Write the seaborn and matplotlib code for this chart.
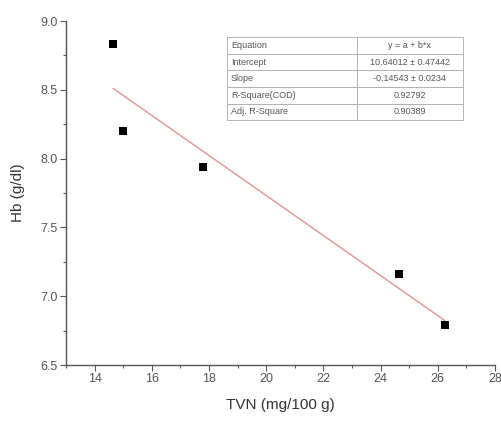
import matplotlib
matplotlib.use("Agg")
import matplotlib.pyplot as plt
import seaborn as sns
import numpy as np
import pandas as pd
from matplotlib.ticker import MultipleLocator

tvn = [14.64, 14.99, 17.77, 24.64, 26.24]
hb = [8.83, 8.20, 7.94, 7.16, 6.79]
intercept = 10.64012
slope = -0.14543
table_labels = ["Equation", "Intercept", "Slope", "R-Square(COD)", "Adj. R-Square"]
table_values = ["y = a + b*x", "10.64012 \u00b1 0.47442", "-0.14543 \u00b1 0.0234", "0.92792", "0.90389"]

sns.set_style("ticks")
plt.rcParams['font.family'] = ['Liberation Sans', 'DejaVu Sans']

fig = plt.figure(figsize=(5.01, 4.21), dpi=100)
ax = fig.add_axes([0.132, 0.133, 0.856, 0.817])

df = pd.DataFrame({"TVN": tvn, "Hb": hb})
fit_x = [min(tvn), max(tvn)]
fit = pd.DataFrame({"TVN": fit_x, "Hb": [intercept + slope * v for v in fit_x]})
sns.lineplot(data=fit, x="TVN", y="Hb", color="#eb9090", linewidth=1.0, ax=ax)
sns.scatterplot(data=df, x="TVN", y="Hb", marker="s", color="black", s=30,
                edgecolor="black", linewidth=0, ax=ax, zorder=3)

ax.set_xlim(13, 28)
ax.set_ylim(6.5, 9.0)
ax.xaxis.set_minor_locator(MultipleLocator(1))
ax.yaxis.set_major_locator(MultipleLocator(0.5))
ax.yaxis.set_minor_locator(MultipleLocator(0.25))
ax.set_xticks(np.arange(14, 28.1, 2))
ax.set_xticklabels([str(v) for v in range(14, 29, 2)])
ax.yaxis.set_major_formatter(matplotlib.ticker.FormatStrFormatter('%.1f'))
sns.despine(ax=ax)
for sp in ["left", "bottom"]:
    ax.spines[sp].set_color("#555555")
    ax.spines[sp].set_linewidth(1.0)
ax.tick_params(which="major", length=4, width=0.8, color="#555555", labelsize=9, labelcolor="#555555", pad=2)
ax.tick_params(which="minor", length=2.5, width=0.8, color="#555555")
ax.set_xlabel("TVN (mg/100 g)", fontsize=11, color="#333333", labelpad=9)
ax.set_ylabel("Hb (g/dl)", fontsize=11, color="#333333", labelpad=11)

cell = [[l, v] for l, v in zip(table_labels, table_values)]
tbl = ax.table(cellText=cell, colWidths=[0.55, 0.45], cellLoc="left",
               bbox=[0.375, 0.712, 0.55, 0.241])
tbl.auto_set_font_size(False)
tbl.set_fontsize(6.5)
for (r, c), cl in tbl.get_celld().items():
    cl.set_edgecolor("#aaaaaa")
    cl.set_linewidth(0.6)
    cl.get_text().set_color("#555555")
    cl.PAD = 0.03
    if c == 1:
        cl.get_text().set_ha("center")
        cl._loc = "center"

fig.savefig("out.png", dpi=100)
